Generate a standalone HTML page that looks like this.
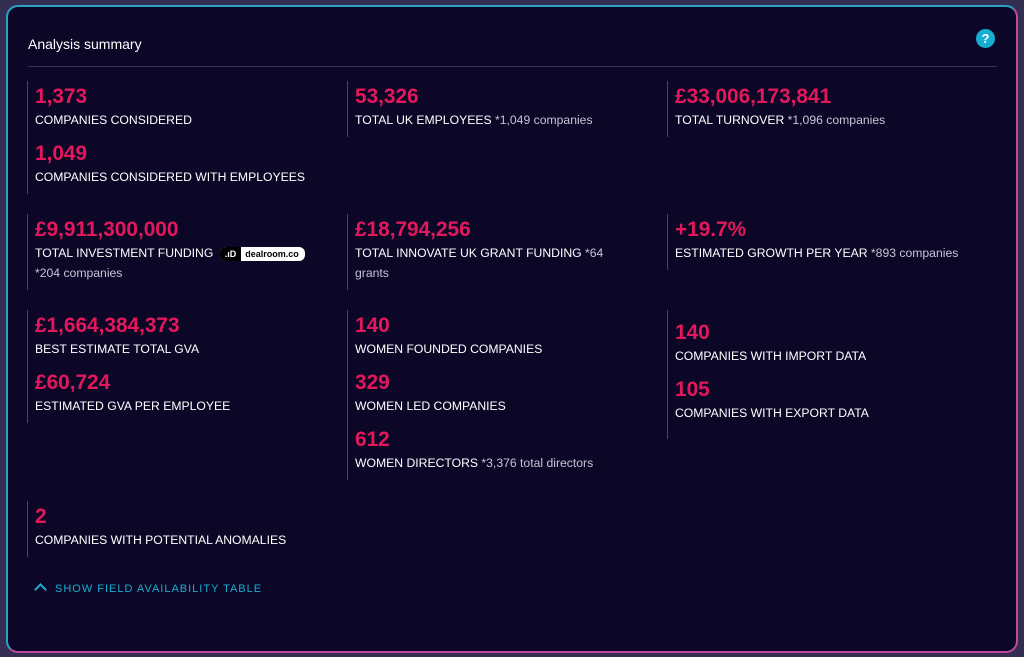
<!DOCTYPE html>
<html><head><style>
html,body{margin:0;padding:0;width:1024px;height:657px;background:#342f52;overflow:hidden;font-family:"Liberation Sans",sans-serif}
.card{position:absolute;left:6px;top:5px;width:1008px;height:644px;border-radius:12px;background:#0c0627;border:2px solid;border-color:#2aa3c9 #c04a9c #c04a9c #2aa3c9}
.t{position:absolute;color:#fff;font-size:14px}
.hr{position:absolute;left:20px;top:59px;width:969px;height:1px;background:#3a3166}
.q{position:absolute;left:968px;top:22px;width:19px;height:19px;border-radius:50%;background:#16aed0;color:#fff;font-weight:bold;font-size:13px;text-align:center;line-height:19px}
.b{position:absolute;border-left:1px solid #4a4466;padding-left:7px}
.v{color:#e3185c;font-weight:bold;font-size:20.8px;line-height:24px;margin-top:4px}
.l{color:#fff;font-size:12.2px;line-height:20px;margin-bottom:12px;padding-top:1px}
.l span.g{color:#c8c4d4}
.dr{display:inline-block;vertical-align:middle;background:#fff;color:#000;font-size:9px;border-radius:6px;height:14px;line-height:14px;padding:0 6px 0 0;margin-left:3px;font-weight:bold}
.dr i{display:inline-block;background:#000;color:#fff;font-style:normal;padding:0 5px;border-radius:6px 0 0 6px;margin-right:4px}
.sf{position:absolute;left:24px;top:576px;color:#1aaed0;font-size:11px;letter-spacing:1px}
</style></head><body>
<div class="card">
<div class="t" style="left:20px;top:29px">Analysis summary</div>
<div class="q">?</div>
<div class="hr"></div>
<div class="b" style="left:19px;top:74px;height:113px;width:300px"><div class="v">1,373</div><div class="l">COMPANIES CONSIDERED</div><div class="v">1,049</div><div class="l">COMPANIES CONSIDERED WITH EMPLOYEES</div></div>
<div class="b" style="left:339px;top:74px;height:56px;width:300px"><div class="v">53,326</div><div class="l">TOTAL UK EMPLOYEES <span class="g">*1,049 companies</span></div></div>
<div class="b" style="left:659px;top:74px;height:56px;width:300px"><div class="v">£33,006,173,841</div><div class="l">TOTAL TURNOVER <span class="g">*1,096 companies</span></div></div>
<div class="b" style="left:19px;top:207px;height:76px;width:300px"><div class="v">£9,911,300,000</div><div class="l">TOTAL INVESTMENT FUNDING <span class="dr"><i>.ıD</i>dealroom.co</span><br><span class="g">*204 companies</span></div></div>
<div class="b" style="left:339px;top:207px;height:76px;width:265px"><div class="v">£18,794,256</div><div class="l">TOTAL INNOVATE UK GRANT FUNDING <span class="g">*64 grants</span></div></div>
<div class="b" style="left:659px;top:207px;height:56px;width:320px"><div class="v">+19.7%</div><div class="l">ESTIMATED GROWTH PER YEAR <span class="g">*893 companies</span></div></div>
<div class="b" style="left:19px;top:303px;height:113px;width:300px"><div class="v">£1,664,384,373</div><div class="l">BEST ESTIMATE TOTAL GVA</div><div class="v">£60,724</div><div class="l">ESTIMATED GVA PER EMPLOYEE</div></div>
<div class="b" style="left:339px;top:303px;height:170px;width:300px"><div class="v">140</div><div class="l">WOMEN FOUNDED COMPANIES</div><div class="v">329</div><div class="l">WOMEN LED COMPANIES</div><div class="v">612</div><div class="l">WOMEN DIRECTORS <span class="g">*3,376 total directors</span></div></div>
<div class="b" style="left:659px;top:303px;height:122px;width:300px;padding-top:7px"><div class="v">140</div><div class="l">COMPANIES WITH IMPORT DATA</div><div class="v">105</div><div class="l">COMPANIES WITH EXPORT DATA</div></div>
<div class="b" style="left:19px;top:494px;height:56px;width:300px"><div class="v">2</div><div class="l">COMPANIES WITH POTENTIAL ANOMALIES</div></div>
<div class="sf"><span style="display:inline-block;width:7px;height:7px;border-left:2px solid #1aaed0;border-top:2px solid #1aaed0;transform:rotate(45deg);margin:0 10px 0 4px;position:relative;top:2px"></span>SHOW FIELD AVAILABILITY TABLE</div>
</div>
</body></html>
